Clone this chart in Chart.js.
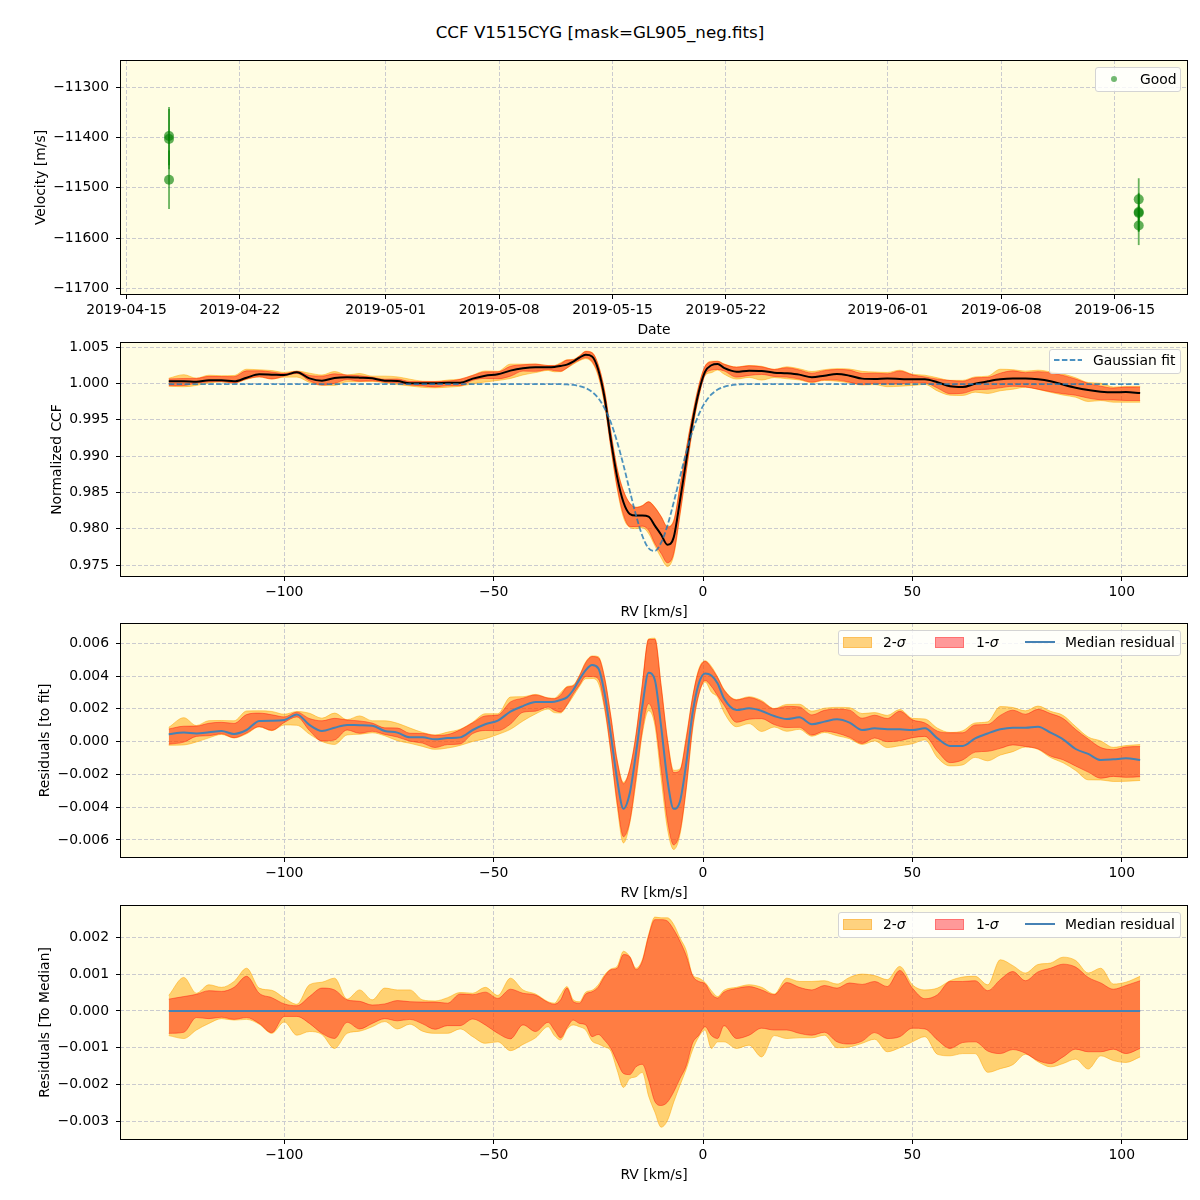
<!DOCTYPE html>
<html>
<head>
<meta charset="utf-8">
<script src="https://cdn.jsdelivr.net/npm/chart.js@4.4.1/dist/chart.umd.min.js"></script>
<style>
body { margin: 0; background: #fff; }
#fig { position: relative; width: 1200px; height: 1200px; background: #fff; font-family: 'DejaVu Sans', sans-serif; color: #000; overflow: hidden; }
#fig canvas { position: absolute; left: 0; }
.title { position: absolute; left: 0; top: 22px; width: 1200px; text-align: center; font-size: 16.7px; line-height: 20px; }
.leg { position: absolute; background: rgba(255,255,255,0.8); border: 1px solid #d4d4d4; border-radius: 3px; box-sizing: border-box; }
.lt { position: absolute; font-size: 13.9px; line-height: 16px; white-space: nowrap; }
.sw { position: absolute; width: 29px; height: 11px; box-sizing: border-box; }
.s2 { background: #fed27f; border: 1px solid #fdbf58; }
.s1 { background: #ff9999; border: 1px solid #ff7070; }
</style>
</head>
<body>
<div id="fig">
  <div class="title">CCF V1515CYG [mask=GL905_neg.fits]</div>
  <canvas id="c1" width="1200" height="285" style="top:55px"></canvas>
  <canvas id="c2" width="1200" height="285" style="top:337px"></canvas>
  <canvas id="c3" width="1200" height="285" style="top:618px"></canvas>
  <canvas id="c4" width="1200" height="285" style="top:900px"></canvas>

  <!-- legend panel 1 -->
  <div class="leg" style="left:1095px;top:67px;width:86px;height:25px"></div>
  <div style="position:absolute;left:1111px;top:76px;width:6px;height:6px;border-radius:50%;background:rgba(0,128,0,0.55)"></div>
  <div class="lt" style="left:1140px;top:71px">Good</div>

  <!-- legend panel 2 -->
  <div class="leg" style="left:1049px;top:349px;width:132px;height:25px"></div>
  <svg style="position:absolute;left:1054px;top:357px" width="30" height="6"><line x1="0" y1="3" x2="28" y2="3" stroke="rgba(31,119,180,0.8)" stroke-width="1.8" stroke-dasharray="5.5 2.4"/></svg>
  <div class="lt" style="left:1093px;top:352px">Gaussian fit</div>

  <!-- legend panel 3 -->
  <div class="leg" style="left:838px;top:630px;width:343px;height:26px"></div>
  <div class="sw s2" style="left:843px;top:637px"></div>
  <div class="lt" style="left:883px;top:634px">2-<i>σ</i></div>
  <div class="sw s1" style="left:935px;top:637px"></div>
  <div class="lt" style="left:976px;top:634px">1-<i>σ</i></div>
  <svg style="position:absolute;left:1025px;top:639px" width="31" height="6"><line x1="0" y1="3" x2="30" y2="3" stroke="#4682b4" stroke-width="2"/></svg>
  <div class="lt" style="left:1065px;top:634px">Median residual</div>

  <!-- legend panel 4 -->
  <div class="leg" style="left:838px;top:912px;width:343px;height:26px"></div>
  <div class="sw s2" style="left:843px;top:919px"></div>
  <div class="lt" style="left:883px;top:916px">2-<i>σ</i></div>
  <div class="sw s1" style="left:935px;top:919px"></div>
  <div class="lt" style="left:976px;top:916px">1-<i>σ</i></div>
  <svg style="position:absolute;left:1025px;top:921px" width="31" height="6"><line x1="0" y1="3" x2="30" y2="3" stroke="#4682b4" stroke-width="2"/></svg>
  <div class="lt" style="left:1065px;top:916px">Median residual</div>
</div>

<script>
// ---- panel 1: RV time series ----
const obsTimes = ['2019-04-17T15:00:00Z', '2019-04-17T15:00:00Z', '2019-04-17T15:00:00Z',
                  '2019-06-16T11:30:00Z', '2019-06-16T11:30:00Z', '2019-06-16T11:30:00Z', '2019-06-16T11:30:00Z'];
const velocity = [-11397, -11403, -11484, -11523, -11548, -11550, -11575];
const velErr = [58, 60, 58, 42, 38, 38, 39];
const dateTicks = ['2019-04-15', '2019-04-22', '2019-05-01', '2019-05-08', '2019-05-15',
                   '2019-05-22', '2019-06-01', '2019-06-08', '2019-06-15'];
const velTicks = [-11700, -11600, -11500, -11400, -11300];

// ---- CCF profile (panels 2-4) ----
const rv = [-127.6, -124, -121, -118, -115, -112, -109, -106, -103, -100, -97, -94, -91, -88, -85, -82,
  -79, -76, -73, -70, -67, -64, -61, -58, -55, -52, -49, -46, -43, -40, -37,
  -35.5, -34, -32.5, -31, -29.5, -28, -26.5, -25, -23.5, -22, -20.5, -19, -17.5, -16, -14.5, -13,
  -11.5, -10, -8.5, -7, -5.5, -4, -2.5, -1, 0.5, 2, 3.5, 5,
  8, 11, 14, 17, 20, 23, 26, 29, 32, 35, 38, 41, 44, 47, 50, 53, 56, 59, 62, 65, 68, 71, 74, 77,
  80, 83, 86, 89, 92, 95, 98, 101, 104.4];

const ccfMedian = [1.00028, 1.00028, 1.00023, 1.00041, 1.00041, 1.00028, 1.00078, 1.00124, 1.00120, 1.00115,
  1.00152, 1.00069, 1.00037, 1.00074, 1.00083, 1.00078, 1.00069, 1.00037, 1.00032, 1.00000,
  1.00000, 1.00000, 1.00009, 1.00009, 1.00065, 1.00106, 1.00124, 1.00175, 1.00207, 1.00221, 1.00221,
  1.00226, 1.00240, 1.00258, 1.00300, 1.00355, 1.00392, 1.00369, 1.00184, 0.99800, 0.99217,
  0.98710, 0.98364, 0.98203, 0.98180, 0.98180, 0.98166, 0.98042, 0.97917, 0.97779, 0.97880,
  0.98387, 0.98940, 0.99470, 0.99885, 1.00161, 1.00249, 1.00267, 1.00212,
  1.00161, 1.00175, 1.00170, 1.00147, 1.00138, 1.00120, 1.00083, 1.00106, 1.00129, 1.00106,
  1.00065, 1.00060, 1.00065, 1.00060, 1.00055, 1.00055, 1.00014, 0.99959, 0.99949, 0.99995,
  1.00028, 1.00055, 1.00065, 1.00065, 1.00055, 1.00028, 0.99982, 0.99940, 0.99908, 0.99885,
  0.99876, 0.99880, 0.99866];

const gaussFit = [0.9999, 0.9999, 0.9999, 0.9999, 0.9999, 0.9999, 0.9999, 0.9999, 0.9999, 0.9999,
  0.9999, 0.9999, 0.9999, 0.9999, 0.9999, 0.9999, 0.9999, 0.9999, 0.9999, 0.9999,
  0.9999, 0.9999, 0.9999, 0.9999, 0.9999, 0.9999, 0.9999, 0.9999, 0.9999, 0.9999, 0.9999,
  0.99989, 0.99988, 0.99985, 0.99978, 0.99963, 0.99934, 0.99882, 0.99795, 0.99656, 0.99460,
  0.99195, 0.98875, 0.98524, 0.98184, 0.97903, 0.97730, 0.97695, 0.97807, 0.98042, 0.98361,
  0.98713, 0.99052, 0.99344, 0.99573, 0.99738, 0.99847, 0.99914, 0.99952,
  0.99982, 0.99989, 0.9999, 0.9999, 0.9999, 0.9999, 0.9999, 0.9999, 0.9999, 0.9999,
  0.9999, 0.9999, 0.9999, 0.9999, 0.9999, 0.9999, 0.9999, 0.9999, 0.9999, 0.9999,
  0.9999, 0.9999, 0.9999, 0.9999, 0.9999, 0.9999, 0.9999, 0.9999, 0.9999, 0.9999,
  0.9999, 0.9999, 0.9999];

const residMedian = [0.00045, 0.00055, 0.00050, 0.00057, 0.00065, 0.00047, 0.00071, 0.00126, 0.00128, 0.00132,
  0.00166, 0.00102, 0.00065, 0.00085, 0.00102, 0.00100, 0.00097, 0.00065, 0.00055, 0.00026,
  0.00026, 0.00014, 0.00022, 0.00026, 0.00071, 0.00106, 0.00128, 0.00183, 0.00217, 0.00242, 0.00242,
  0.00244, 0.00254, 0.00270, 0.00315, 0.00380, 0.00436, 0.00467, 0.00447, 0.00294, 0.00040,
  -0.00233, -0.00410, -0.00315, -0.00070, 0.00213, 0.00420, 0.00376, 0.00091, -0.00233, -0.00410,
  -0.00365, -0.00132, 0.00173, 0.00355, 0.00416, 0.00404, 0.00355, 0.00264,
  0.00193, 0.00203, 0.00187, 0.00156, 0.00138, 0.00148, 0.00106, 0.00122, 0.00136, 0.00116,
  0.00071, 0.00081, 0.00075, 0.00075, 0.00071, 0.00081, 0.00020, -0.00026, -0.00026, 0.00020,
  0.00050, 0.00075, 0.00085, 0.00085, 0.00091, 0.00055, 0.00014, -0.00045, -0.00075, -0.00112,
  -0.00108, -0.00102, -0.00112];

// spread of the CCFs around their median (panel 4), reused for the bands above
const sig2Hi = [0.00042, 0.00091, 0.00048, 0.00071, 0.00064, 0.00080, 0.00116, 0.00062, 0.00056, 0.00035,
  0.00018, 0.00071, 0.00078, 0.00089, 0.00032, 0.00057, 0.00030, 0.00062, 0.00057, 0.00057,
  0.00030, 0.00027, 0.00036, 0.00050, 0.00048, 0.00064, 0.00042, 0.00089, 0.00057, 0.00046, 0.00025,
  0.00021, 0.00044, 0.00066, 0.00030, 0.00025, 0.00051, 0.00056, 0.00071, 0.00098, 0.00114,
  0.00121, 0.00162, 0.00148, 0.00116, 0.00139, 0.00207, 0.00255, 0.00253, 0.00253, 0.00235,
  0.00198, 0.00164, 0.00098, 0.00089, 0.00077, 0.00055, 0.00039, 0.00056,
  0.00064, 0.00071, 0.00064, 0.00046, 0.00089, 0.00080, 0.00080, 0.00082, 0.00073, 0.00091,
  0.00100, 0.00096, 0.00085, 0.00121, 0.00071, 0.00057, 0.00062, 0.00082, 0.00092, 0.00094,
  0.00071, 0.00139, 0.00123, 0.00103, 0.00126, 0.00130, 0.00146, 0.00137, 0.00103, 0.00116,
  0.00073, 0.00078, 0.00094];
const sig1Hi = [0.00032, 0.00039, 0.00045, 0.00055, 0.00053, 0.00064, 0.00094, 0.00048, 0.00036, 0.00019,
  0.00014, 0.00039, 0.00062, 0.00057, 0.00030, 0.00026, 0.00016, 0.00019, 0.00028, 0.00025,
  0.00024, 0.00024, 0.00021, 0.00046, 0.00044, 0.00051, 0.00034, 0.00059, 0.00048, 0.00043, 0.00023,
  0.00018, 0.00030, 0.00062, 0.00025, 0.00021, 0.00046, 0.00052, 0.00065, 0.00094, 0.00112,
  0.00116, 0.00153, 0.00147, 0.00112, 0.00135, 0.00203, 0.00248, 0.00248, 0.00244, 0.00221,
  0.00189, 0.00150, 0.00096, 0.00080, 0.00074, 0.00046, 0.00035, 0.00051,
  0.00061, 0.00066, 0.00057, 0.00044, 0.00077, 0.00064, 0.00057, 0.00069, 0.00062, 0.00076,
  0.00072, 0.00080, 0.00066, 0.00110, 0.00062, 0.00033, 0.00044, 0.00080, 0.00080, 0.00082,
  0.00055, 0.00085, 0.00107, 0.00082, 0.00106, 0.00116, 0.00127, 0.00119, 0.00091, 0.00076,
  0.00059, 0.00069, 0.00082];
const sig1Lo = [-0.00061, -0.00058, -0.00018, -0.00021, -0.00017, -0.00023, -0.00018, -0.00034, -0.00059, -0.00015,
  -0.00015, -0.00034, -0.00061, -0.00075, -0.00031, -0.00049, -0.00034, -0.00021, -0.00027, -0.00023,
  -0.00035, -0.00050, -0.00040, -0.00040, -0.00022, -0.00038, -0.00061, -0.00076, -0.00038, -0.00056, -0.00031,
  -0.00052, -0.00073, -0.00046, -0.00025, -0.00034, -0.00038, -0.00070, -0.00064, -0.00080, -0.00102,
  -0.00138, -0.00170, -0.00173, -0.00152, -0.00145, -0.00188, -0.00246, -0.00257, -0.00248, -0.00220,
  -0.00184, -0.00149, -0.00088, -0.00066, -0.00043, -0.00067, -0.00075, -0.00040,
  -0.00075, -0.00066, -0.00047, -0.00052, -0.00052, -0.00061, -0.00066, -0.00058, -0.00084, -0.00090,
  -0.00082, -0.00059, -0.00075, -0.00070, -0.00047, -0.00049, -0.00079, -0.00102, -0.00086, -0.00084,
  -0.00109, -0.00116, -0.00105, -0.00115, -0.00135, -0.00143, -0.00125, -0.00104, -0.00111, -0.00111,
  -0.00104, -0.00116, -0.00102];
const sig2Lo = [-0.00067, -0.00075, -0.00052, -0.00034, -0.00021, -0.00025, -0.00023, -0.00036, -0.00061, -0.00030,
  -0.00066, -0.00056, -0.00064, -0.00102, -0.00061, -0.00055, -0.00043, -0.00029, -0.00049, -0.00036,
  -0.00055, -0.00061, -0.00061, -0.00049, -0.00070, -0.00088, -0.00084, -0.00108, -0.00091, -0.00073, -0.00043,
  -0.00067, -0.00079, -0.00050, -0.00038, -0.00043, -0.00052, -0.00082, -0.00090, -0.00098, -0.00109,
  -0.00161, -0.00208, -0.00184, -0.00179, -0.00167, -0.00231, -0.00275, -0.00316, -0.00298, -0.00248,
  -0.00202, -0.00158, -0.00106, -0.00070, -0.00052, -0.00102, -0.00084, -0.00084,
  -0.00102, -0.00093, -0.00125, -0.00067, -0.00075, -0.00073, -0.00073, -0.00066, -0.00100, -0.00098,
  -0.00088, -0.00077, -0.00111, -0.00100, -0.00084, -0.00070, -0.00118, -0.00122, -0.00116, -0.00116,
  -0.00167, -0.00157, -0.00146, -0.00118, -0.00138, -0.00152, -0.00143, -0.00131, -0.00158, -0.00122,
  -0.00135, -0.00140, -0.00125];

const rvTicks = [-100, -50, 0, 50, 100];
const ccfTicks = [0.975, 0.980, 0.985, 0.990, 0.995, 1.000, 1.005];
const resTicks = [-0.006, -0.004, -0.002, 0, 0.002, 0.004, 0.006];
const medTicks = [-0.003, -0.002, -0.001, 0, 0.001, 0.002];

// ---- styling ----
const BG = '#fffde3';
const GRID = '#cbcbcf';
const FONT = {family: 'DejaVu Sans', size: 13.9};
const C2 = 'rgba(255,165,0,0.5)';
const C1 = 'rgba(255,0,0,0.4)';
const BLUE = '#4682b4';

const panelBg = {
  id: 'panelBg',
  beforeDraw(chart) {
    const a = chart.chartArea, ctx = chart.ctx;
    ctx.save();
    ctx.fillStyle = BG;
    ctx.fillRect(a.left, a.top, a.right - a.left, a.bottom - a.top);
    ctx.restore();
  },
  afterDraw(chart) {
    const a = chart.chartArea, ctx = chart.ctx;
    ctx.save();
    ctx.strokeStyle = '#000';
    ctx.lineWidth = 1;
    ctx.strokeRect(a.left + 0.5, a.top + 0.5, a.right - a.left - 1, a.bottom - a.top - 1);
    ctx.restore();
  }
};

const minus = s => s.replace('-', '\u2212');

function axis(min, max, ticks, fmt, title, titlePad, isX) {
  return {
    type: 'linear', min: min, max: max,
    afterBuildTicks: s => { s.ticks = ticks.map(v => ({value: v})); },
    afterFit: s => {
      if (isX) { s.height = 45; s.paddingLeft = 0; s.paddingRight = 0; }
      else { s.width = 120; s.paddingTop = 0; s.paddingBottom = 0; }
    },
    ticks: {callback: v => fmt(v), font: FONT, color: '#000', padding: isX ? 3 : 7,
            autoSkip: false, maxRotation: 0, minRotation: 0},
    grid: {color: GRID, lineWidth: 1, drawTicks: true, tickLength: 4, tickColor: '#000', tickWidth: 1},
    border: {display: false, dash: [4, 2]},
    title: {display: true, text: title, font: FONT, color: '#000',
            padding: isX ? {top: 0, bottom: 1.7} : {top: titlePad, bottom: 0}}
  };
}

function baseOptions(xAxis, yAxis) {
  return {
    responsive: false, animation: false, devicePixelRatio: 1, events: [],
    layout: {padding: {top: 5, right: 12, bottom: 0, left: 0}},
    plugins: {legend: {display: false}, tooltip: {enabled: false}},
    elements: {point: {radius: 0}},
    scales: {x: xAxis, y: yAxis}
  };
}

const rvFmt = v => minus(String(v));
const rvAxis = () => axis(-139.24, 115.83, rvTicks, rvFmt, 'RV [km/s]', 0, true);

function pts(base, off) {
  return rv.map((x, i) => ({x: x, y: (base ? base[i] : 0) + (off ? off[i] : 0)}));
}

function bandSets(base) {
  const line = {type: 'line', borderWidth: 1, pointRadius: 0, cubicInterpolationMode: 'monotone'};
  return [
    Object.assign({}, line, {data: pts(base, sig2Hi), borderColor: C2, backgroundColor: C2, fill: '+1', order: 4}),
    Object.assign({}, line, {data: pts(base, sig2Lo), borderColor: C2, fill: false, order: 4}),
    Object.assign({}, line, {data: pts(base, sig1Hi), borderColor: C1, backgroundColor: C1, fill: '+1', order: 3}),
    Object.assign({}, line, {data: pts(base, sig1Lo), borderColor: C1, fill: false, order: 3})
  ];
}

// panel 1
const tms = obsTimes.map(s => Date.parse(s));
const errSets = tms.map((t, i) => ({
  type: 'line', showLine: true, pointRadius: 0, borderWidth: 1.8, borderColor: 'rgba(0,128,0,0.6)',
  data: [{x: t, y: velocity[i] - velErr[i]}, {x: t, y: velocity[i] + velErr[i]}], order: 2
}));
new Chart(document.getElementById('c1'), {
  type: 'scatter',
  data: {datasets: errSets.concat([{
    type: 'scatter', data: tms.map((t, i) => ({x: t, y: velocity[i]})),
    pointRadius: 5, backgroundColor: 'rgba(0,128,0,0.62)', borderWidth: 0, order: 1
  }])},
  options: baseOptions(
    axis(Date.parse('2019-04-14T14:22:00Z'), Date.parse('2019-06-19T12:30:00Z'),
         dateTicks.map(d => Date.parse(d + 'T00:00:00Z')),
         v => new Date(v).toISOString().slice(0, 10), 'Date', 0, true),
    axis(-11713.3, -11245.7, velTicks, v => minus(String(v)), 'Velocity [m/s]', 32.7, false)),
  plugins: [panelBg]
});

// panel 2
new Chart(document.getElementById('c2'), {
  type: 'line',
  data: {datasets: bandSets(ccfMedian).concat([
    {data: pts(ccfMedian), borderColor: '#000', borderWidth: 2, fill: false, cubicInterpolationMode: 'monotone', order: 2},
    {data: pts(gaussFit), borderColor: 'rgba(31,119,180,0.8)', borderWidth: 1.8, borderDash: [5.5, 2.4],
     fill: false, cubicInterpolationMode: 'monotone', order: 1}
  ])},
  options: baseOptions(rvAxis(),
    axis(0.97335, 1.00569, ccfTicks, v => v.toFixed(3), 'Normalized CCF', 48.7, false)),
  plugins: [panelBg]
});

// panel 3
new Chart(document.getElementById('c3'), {
  type: 'line',
  data: {datasets: bandSets(residMedian).concat([
    {data: pts(residMedian), borderColor: BLUE, borderWidth: 2, fill: false, cubicInterpolationMode: 'monotone', order: 1}
  ])},
  options: baseOptions(rvAxis(),
    axis(-0.0071, 0.007238, resTicks, v => minus(v.toFixed(3)), 'Residuals [to fit]', 36.7, false)),
  plugins: [panelBg]
});

// panel 4
new Chart(document.getElementById('c4'), {
  type: 'line',
  data: {datasets: bandSets(null).concat([
    {data: pts(null), borderColor: BLUE, borderWidth: 2, fill: false, order: 1}
  ])},
  options: baseOptions(rvAxis(),
    axis(-0.003508, 0.002878, medTicks, v => minus(v.toFixed(3)), 'Residuals [To Median]', 36.7, false)),
  plugins: [panelBg]
});
</script>
</body>
</html>
